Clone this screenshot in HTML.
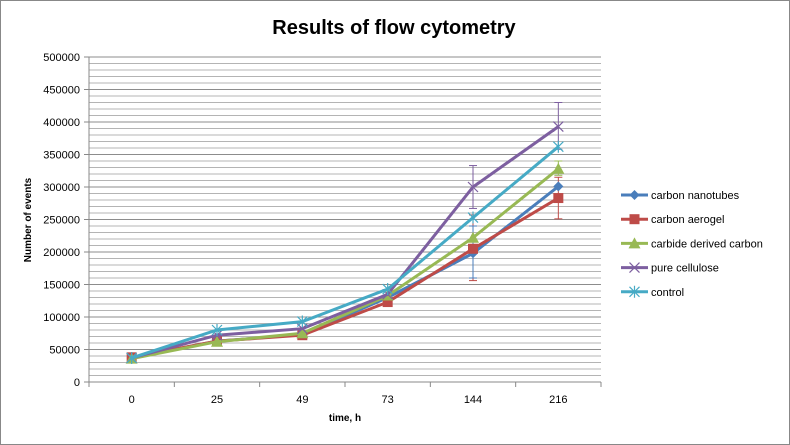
<!DOCTYPE html>
<html><head><meta charset="utf-8"><style>
html,body{margin:0;padding:0;background:#fff;}
svg{display:block;font-family:"Liberation Sans",sans-serif;}
</style></head><body>
<svg id="c" width="790" height="445" xmlns="http://www.w3.org/2000/svg"></svg>
<script>
const s=document.getElementById('c');let h='';
h+='<rect x="0.5" y="0.5" width="789" height="444" fill="#fff" stroke="#888"/>';
const L=89,R=601,T=57,B=382,k=(B-T)/500000;
const Y=v=>B-v*k;
for(let v=10000;v<=500000;v+=10000){const y=Y(v).toFixed(1);const maj=v%50000==0;
h+=`<line x1="${L}" x2="${R}" y1="${y}" y2="${y}" stroke="${maj?'#8c8c8c':'#b4b4b4'}" stroke-width="1"/>`;}
h+=`<line x1="${L}" x2="${L}" y1="${T}" y2="${B}" stroke="#888"/>`;
h+=`<line x1="${L}" x2="${R}" y1="${B}" y2="${B}" stroke="#888"/>`;
for(let v=0;v<=500000;v+=50000){const y=Y(v);h+=`<line x1="${L-5}" x2="${L}" y1="${y}" y2="${y}" stroke="#888"/>`;
h+=`<text x="${L-9}" y="${y+4}" font-size="11" text-anchor="end" fill="#000">${v}</text>`;}
const cats=['0','25','49','73','144','216'],w=(R-L)/6;
for(let i=0;i<=6;i++){const x=L+i*w;h+=`<line x1="${x}" x2="${x}" y1="${B}" y2="${B+5}" stroke="#888"/>`;}
const X=i=>L+w*(i+0.5);
cats.forEach((c,i)=>h+=`<text x="${X(i)}" y="${B+21}" font-size="11" text-anchor="middle">${c}</text>`);
const ser=[
['#4a7ebb','d',[37000,63000,73000,130000,198000,301000]],
['#be4b48','s',[38000,63000,72000,123000,205000,283000]],
['#98b954','t',[36000,62000,75000,133000,222000,328000]],
['#7d5fa0','x',[37000,72000,82000,135000,300000,393000]],
['#46aac5','a',[37000,80000,93000,143000,253000,362000]]];
// error bars
const eb=[[4,'#be4b48',156000,257000],[5,'#be4b48',251000,315000],[4,'#7d5fa0',267000,333000],[5,'#7d5fa0',358000,430000],[5,'#98b954',318000,340000],[4,'#4a7ebb',160000,240000]];
eb.forEach(([i,c,a,b])=>{const x=X(i);h+=`<line x1="${x}" x2="${x}" y1="${Y(a)}" y2="${Y(b)}" stroke="${c}"/><line x1="${x-4}" x2="${x+4}" y1="${Y(a)}" y2="${Y(a)}" stroke="${c}"/><line x1="${x-4}" x2="${x+4}" y1="${Y(b)}" y2="${Y(b)}" stroke="${c}"/>`;});
function mk(t,c,x,y){
 if(t=='d')return `<path d="M${x} ${y-5}L${x+5} ${y}L${x} ${y+5}L${x-5} ${y}Z" fill="${c}"/>`;
 if(t=='s')return `<rect x="${x-5}" y="${y-5}" width="10" height="10" fill="${c}"/>`;
 if(t=='t')return `<path d="M${x} ${y-6}L${x+6} ${y+5}L${x-6} ${y+5}Z" fill="${c}"/>`;
 if(t=='x')return `<path d="M${x-5} ${y-5}L${x+5} ${y+5}M${x-5} ${y+5}L${x+5} ${y-5}" stroke="${c}" stroke-width="1.2"/>`;
 return `<path d="M${x-5} ${y-5}L${x+5} ${y+5}M${x-5} ${y+5}L${x+5} ${y-5}M${x} ${y-6}V${y+6}" stroke="${c}" stroke-width="1.2"/>`;
}
ser.forEach(([c,t,d])=>{h+=`<polyline fill="none" stroke="${c}" stroke-width="3" points="${d.map((v,i)=>X(i)+','+Y(v).toFixed(1)).join(' ')}"/>`;
d.forEach((v,i)=>h+=mk(t,c,X(i),Y(v)));});
const names=['carbon nanotubes','carbon aerogel','carbide derived carbon','pure cellulose','control'];
ser.forEach(([c,t],i)=>{const y=195+i*24.2;h+=`<line x1="621" x2="648" y1="${y}" y2="${y}" stroke="${c}" stroke-width="3"/>`+mk(t,c,634.5,y)+`<text x="651" y="${y+4}" font-size="11">${names[i]}</text>`;});
h+=`<text x="394" y="34" font-size="20" font-weight="bold" text-anchor="middle">Results of flow cytometry</text>`;
h+=`<text x="345" y="421" font-size="10" font-weight="bold" text-anchor="middle">time, h</text>`;
h+=`<text transform="translate(31,220) rotate(-90)" font-size="10" font-weight="bold" text-anchor="middle">Number of events</text>`;
s.innerHTML=h;
</script>
</body></html>
